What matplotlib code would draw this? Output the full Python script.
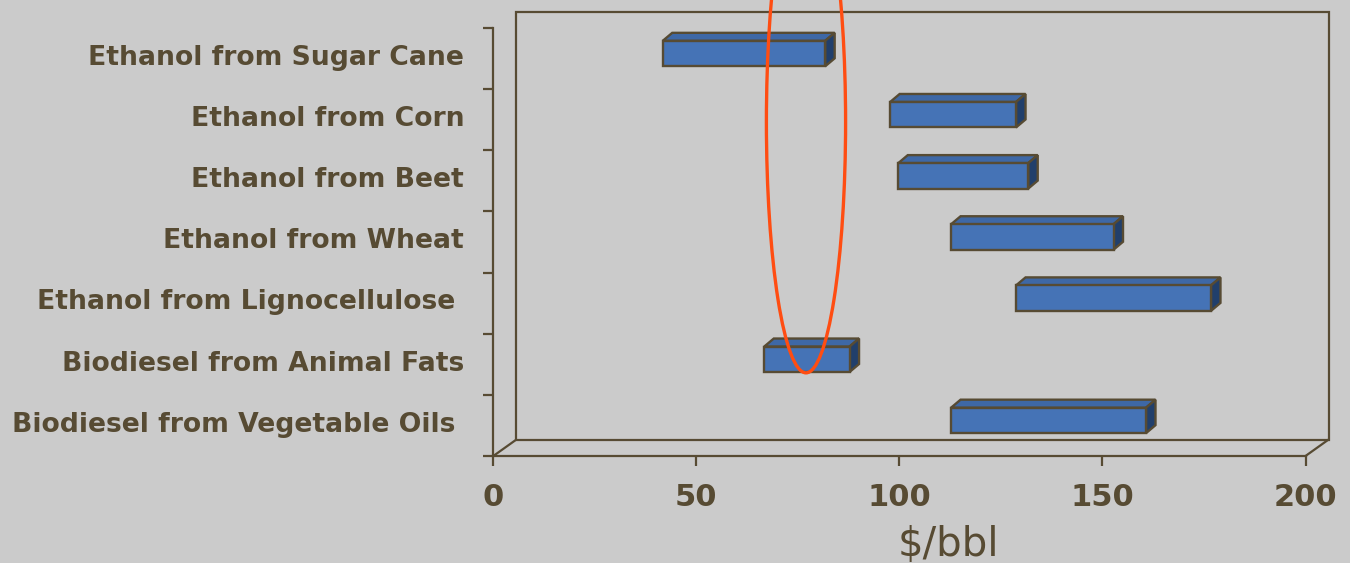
import numpy as np
import matplotlib.pyplot as plt
from matplotlib.patches import Polygon, Ellipse
from matplotlib.transforms import blended_transform_factory

PATHWAYS = [
    "Ethanol from Sugar Cane",
    "Ethanol from Corn",
    "Ethanol from Beet",
    "Ethanol from Wheat",
    "Ethanol from Lignocellulose ",
    "Biodiesel from Animal Fats",
    "Biodiesel from Vegetable Oils ",
]
COST_LOW = [40, 96, 98, 111, 127, 65, 111]    # $/bbl
COST_HIGH = [80, 127, 130, 151, 175, 86, 159]  # $/bbl
X_TICKS = [0, 50, 100, 150, 200]
OIL_PRICE_BAND = (67, 87)  # highlighted range, $/bbl

BG = "#cbcbcb"
INK = "#574b33"
FACE = "#4573b6"
TOP = "#3e68a6"
SIDE = "#213f6b"
RED = "#ff4d12"
LW = 1.6

plt.rcParams["font.family"] = ["DejaVu Sans"]

fig = plt.figure(figsize=(13.5, 5.63), dpi=100)
fig.patch.set_facecolor(BG)
ax = fig.add_axes([493.3 / 1350, 107 / 563, 812.2 / 1350, 428 / 563])
ax.set_facecolor("none")

n = len(PATHWAYS)
ax.set_xlim(0, 200)
ax.set_ylim(n - 0.5, -0.5)


def depth(px_x, px_y):
    # screen offset in pixels (right, up) -> data units
    inv = ax.transData.inverted()
    x0, y0 = inv.transform((0, 0))
    x1, y1 = inv.transform((px_x, px_y))
    return x1 - x0, y1 - y0


# axes frame: left + bottom on the front plane
for side in ("top", "right"):
    ax.spines[side].set_visible(False)
for side in ("left", "bottom"):
    ax.spines[side].set_color(INK)
    ax.spines[side].set_linewidth(LW)

# category names sit a touch above the band centre
ax.set_yticks(np.arange(n) - 0.06)
ax.set_yticklabels(PATHWAYS, fontsize=19.2, fontweight="bold", color=INK)
ax.set_yticks(np.arange(-0.5, n), minor=True)
ax.tick_params(axis="y", which="major", length=0, pad=21)
ax.tick_params(axis="y", which="minor", length=7.5, width=LW, color=INK)

ax.set_xticks(X_TICKS)
ax.set_xticklabels([str(t) for t in X_TICKS], fontsize=22, fontweight="bold", color=INK)
ax.tick_params(axis="x", length=7.5, width=LW, color=INK, pad=12)

# back wall and floor edges
wx, wy = depth(23, 16.4)
y_top, y_bot = -0.5, n - 0.5
ax.add_patch(Polygon([(wx, y_bot + wy), (wx, y_top + wy), (200 + wx, y_top + wy),
                      (200 + wx, y_bot + wy)], closed=True, fill=False,
                     edgecolor=INK, lw=LW, clip_on=False, zorder=1))
for x in (0, 200):
    ax.plot([x, x + wx], [y_bot, y_bot + wy], color=INK, lw=LW,
            clip_on=False, zorder=1, solid_capstyle="butt")

# 3-D looking range bars
fx, fy = depth(7, 5)
bx, by = depth(9.5, 8)
h = 0.417
for i, (lo, hi) in enumerate(zip(COST_LOW, COST_HIGH)):
    yc = i + fy
    top = yc - h / 2
    bot = yc + h / 2
    ax.add_patch(Polygon([(lo + fx, top), (hi + fx, top), (hi + fx + bx, top + by),
                          (lo + fx + bx, top + by)], closed=True, facecolor=TOP,
                         edgecolor=INK, lw=1.7, clip_on=False, zorder=3))
    ax.add_patch(Polygon([(hi + fx, top), (hi + fx, bot), (hi + fx + bx, bot + by),
                          (hi + fx + bx, top + by)], closed=True, facecolor=SIDE,
                         edgecolor=INK, lw=1.7, clip_on=False, zorder=3))
ax.barh([i + fy for i in range(n)], np.subtract(COST_HIGH, COST_LOW),
        left=np.add(COST_LOW, fx), height=h, color=FACE, edgecolor=INK,
        linewidth=1.7, zorder=4, clip_on=False)

# highlight ring around the oil price range
lo, hi = OIL_PRICE_BAND
ax.add_patch(Ellipse(((lo + hi) / 2, 1.04), width=19.5, height=8.2, fill=False,
                     edgecolor=RED, lw=2.4, clip_on=False, zorder=6))

trans = blended_transform_factory(ax.transData, ax.transAxes)
ax.text(99.5, -0.2336, r"\$/bbl", transform=trans, ha="left", va="baseline",
        fontsize=29, color=INK)

fig.savefig("out.png", dpi=100, facecolor=BG)
